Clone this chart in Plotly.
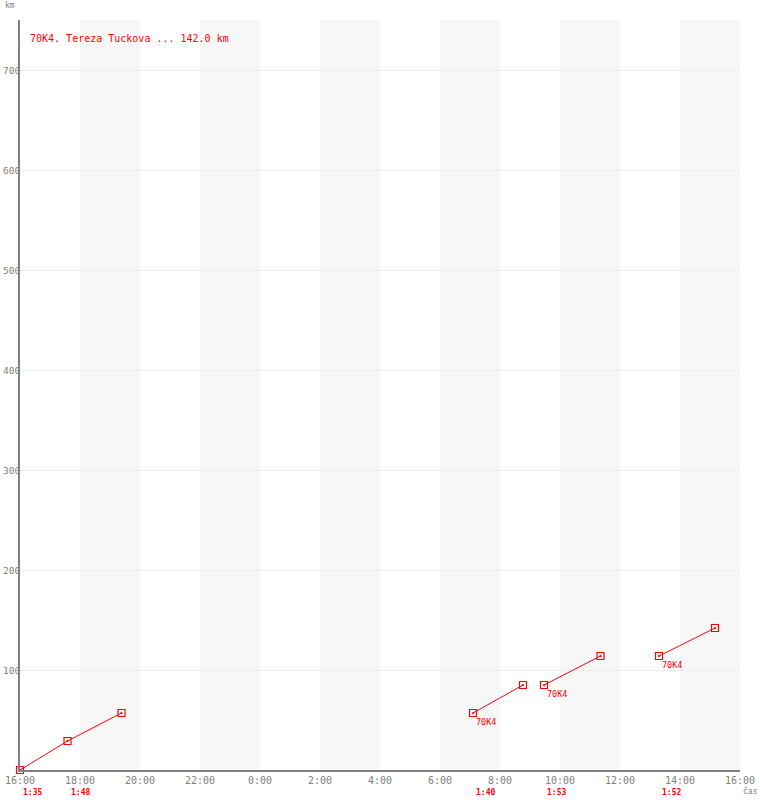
import plotly.graph_objects as go

# ---- data ----
seg_times = [
    ["2023-06-10 16:00", "2023-06-10 17:35", "2023-06-10 19:23"],
    ["2023-06-11 07:06", "2023-06-11 08:46"],
    ["2023-06-11 09:28", "2023-06-11 11:21"],
    ["2023-06-11 13:18", "2023-06-11 15:10"],
]
seg_km = [
    [0, 29, 57],
    [57, 85],
    [85, 114],
    [114, 142],
]
leg_starts = ["2023-06-10 16:00", "2023-06-10 17:35", "2023-06-11 07:06", "2023-06-11 09:28", "2023-06-11 13:18"]
leg_durations = ["1:35", "1:48", "1:40", "1:53", "1:52"]
team_label_idx = [1, 2, 3]
team_name = "70K4"
title_text = "70K4. Tereza Tuckova ... 142.0 km"
x_start, x_end = "2023-06-10 16:00", "2023-06-11 16:00"
band_starts = ["2023-06-10 18:00", "2023-06-10 22:00", "2023-06-11 02:00",
               "2023-06-11 06:00", "2023-06-11 10:00", "2023-06-11 14:00"]
band_ends = ["2023-06-10 20:00", "2023-06-11 00:00", "2023-06-11 04:00",
             "2023-06-11 08:00", "2023-06-11 12:00", "2023-06-11 16:00"]
y_ticks = [100, 200, 300, 400, 500, 600, 700]

RED = "#ff0000"
GRAY = "#808080"
FONT = "DejaVu Sans Mono"

fig = go.Figure()

for t, k in zip(seg_times, seg_km):
    fig.add_trace(go.Scatter(
        x=t, y=k, mode="lines+markers",
        line=dict(color=RED, width=1),
        marker=dict(symbol="square-open-dot", size=7, color=RED, line=dict(width=1.2)),
        hoverinfo="skip", showlegend=False, cliponaxis=False,
    ))

shapes = []
for a, b in zip(band_starts, band_ends):
    shapes.append(dict(type="rect", xref="x", yref="paper", x0=a, x1=b, y0=0, y1=1,
                       fillcolor="#f7f7f7", line=dict(width=0), layer="below"))

annotations = []
for v in y_ticks:
    annotations.append(dict(x=0, y=v, xref="paper", yref="y", text=str(v),
                            showarrow=False, xanchor="right", yanchor="middle",
                            xshift=1, borderpad=0,
                            font=dict(family=FONT, size=9.5, color=GRAY)))
for s, d in zip(leg_starts, leg_durations):
    annotations.append(dict(x=s, y=0, xref="x", yref="paper", text="<b>" + d + "</b>",
                            showarrow=False, xanchor="left", yanchor="top",
                            xshift=1, yshift=-16,
                            font=dict(family=FONT, size=8, color=RED)))
for i in team_label_idx:
    annotations.append(dict(x=seg_times[i][0], y=seg_km[i][0], xref="x", yref="y",
                            text=team_name, showarrow=False, xanchor="left", yanchor="top",
                            xshift=1, yshift=-2,
                            font=dict(family=FONT, size=8.5, color=RED)))
annotations.append(dict(x=0, y=1, xref="paper", yref="paper", text=title_text,
                        showarrow=False, xanchor="left", yanchor="middle",
                        xshift=8, yshift=-18,
                        font=dict(family=FONT, size=10, color=RED)))
annotations.append(dict(x=0, y=1, xref="paper", yref="paper", text="km",
                        showarrow=False, xanchor="center", yanchor="bottom",
                        xshift=-10, yshift=8,
                        font=dict(family=FONT, size=8, color=GRAY)))
annotations.append(dict(x=1, y=0, xref="paper", yref="paper", text="čas",
                        showarrow=False, xanchor="left", yanchor="top",
                        xshift=1, yshift=-14,
                        font=dict(family=FONT, size=8, color=GRAY)))

fig.update_layout(
    width=760, height=800,
    margin=dict(l=20, r=20, t=20, b=30, autoexpand=False),
    paper_bgcolor="white", plot_bgcolor="white",
    shapes=shapes, annotations=annotations,
    xaxis=dict(type="date", range=[x_start, x_end], dtick=7200000, tick0=x_start,
               tickformat="%-H:%M", showgrid=False, zeroline=False, automargin=False,
               showline=True, linecolor=GRAY, linewidth=1.5, ticks="",
               tickfont=dict(family=FONT, size=10, color=GRAY)),
    yaxis=dict(range=[0, 750], tickvals=y_ticks, showgrid=True, gridcolor="#ececec",
               gridwidth=1, zeroline=False, showline=True, linecolor=GRAY, linewidth=1.5,
               automargin=False, ticks="", showticklabels=False),
)

fig.write_html("out.html", config={"displayModeBar": False},
               post_script="document.body.style.margin='0';document.body.style.overflow='hidden';")
